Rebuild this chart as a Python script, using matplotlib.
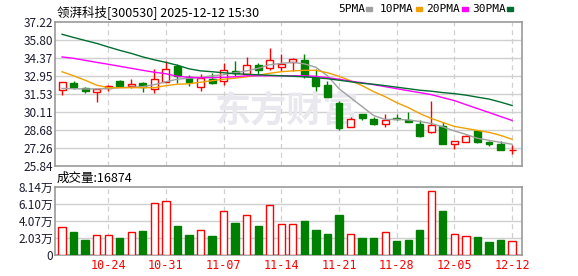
import numpy as np
import matplotlib
matplotlib.use("Agg")
import matplotlib.pyplot as plt

plt.rcParams['font.family'] = ['Noto Sans CJK SC', 'DejaVu Sans']

# daily bars 10-20 .. 12-12
opens = [31.85, 32.42, 31.97, 31.68, 31.99, 32.58, 32.13, 32.37, 31.93, 32.50,
         33.76, 32.89, 32.11, 32.74, 32.52, 33.36, 33.15, 33.86, 33.62, 33.68,
         34.05, 34.21, 32.76, 32.27, 30.80, 28.94, 29.91, 29.54, 29.12, 29.60,
         29.44, 29.12, 28.55, 29.02, 27.61, 27.76, 28.60, 27.73, 27.55, 27.12]
highs = [32.50, 32.58, 32.08, 31.93, 32.24, 32.60, 32.74, 32.45, 33.50, 34.10,
         33.91, 33.05, 33.11, 33.18, 33.97, 34.15, 34.46, 34.00, 35.20, 34.68,
         34.35, 34.72, 33.50, 32.58, 31.01, 29.75, 29.95, 29.70, 29.93, 29.96,
         30.09, 29.44, 31.01, 29.28, 27.80, 28.26, 28.62, 27.81, 27.79, 27.47]
lows = [31.48, 31.90, 31.64, 30.93, 31.79, 32.08, 32.03, 31.66, 31.64, 32.45,
        32.42, 32.13, 31.74, 32.35, 32.27, 32.97, 33.10, 33.15, 33.42, 33.36,
        33.36, 32.79, 31.79, 31.30, 28.65, 28.90, 29.44, 29.07, 28.91, 29.50,
        29.30, 28.10, 28.44, 27.60, 27.21, 27.75, 27.65, 27.39, 27.12, 26.82]
closes = [32.45, 32.11, 31.74, 31.91, 32.19, 32.13, 32.34, 32.08, 32.68, 33.50,
          32.95, 32.45, 32.79, 32.40, 33.42, 33.18, 33.84, 33.44, 34.23, 33.94,
          34.33, 32.97, 32.13, 31.32, 28.81, 29.54, 29.62, 29.18, 29.44, 29.52,
          29.33, 28.18, 29.07, 27.61, 27.79, 28.18, 27.73, 27.55, 27.14, 27.14]
# volume in 万手
volumes = [3.35, 2.75, 1.80, 2.36, 2.36, 2.03, 2.71, 2.87, 6.19, 6.43,
           3.47, 2.39, 2.95, 2.27, 5.23, 3.83, 4.75, 3.47, 5.95, 3.71,
           3.67, 4.07, 2.99, 2.51, 4.79, 2.47, 2.00, 2.03, 2.71, 1.64,
           1.80, 2.99, 7.63, 5.27, 2.47, 2.23, 2.15, 1.56, 1.80, 1.6874]

ma5 = [31.97, 31.95, 31.93, 31.93, 31.95, 32.03, 32.07, 32.11, 32.27, 32.50,
       32.70, 32.78, 32.82, 32.97, 33.05, 33.21, 33.36, 33.56, 33.84, 33.95,
       34.03, 33.91, 33.64, 32.97, 31.95, 31.24, 30.54, 29.83, 29.52, 29.52,
       29.48, 29.36, 29.20, 28.93, 28.61, 28.34, 28.03, 27.87, 27.71, 27.56]
ma10 = [33.29, 32.97, 32.62, 32.23, 32.03, 32.03, 32.03, 32.03, 32.03, 32.19,
        32.30, 32.34, 32.46, 32.58, 32.70, 32.78, 32.89, 33.01, 33.17, 33.29,
        33.36, 33.40, 33.40, 33.21, 32.93, 32.58, 32.19, 31.72, 31.32, 30.85,
        30.46, 29.99, 29.60, 29.28, 28.97, 28.81, 28.65, 28.50, 28.26, 27.95]
ma20 = [34.46, 34.35, 34.19, 34.03, 33.88, 33.72, 33.56, 33.40, 33.25, 33.13,
        32.93, 32.85, 32.82, 32.82, 32.85, 32.89, 32.97, 32.97, 32.97, 32.97,
        32.97, 32.97, 32.93, 32.82, 32.70, 32.54, 32.42, 32.27, 32.11, 31.95,
        31.79, 31.64, 31.48, 31.24, 31.01, 30.69, 30.38, 30.07, 29.75, 29.44]
ma30 = [36.25, 36.00, 35.76, 35.53, 35.25, 34.98, 34.74, 34.46, 34.23, 34.03,
        33.80, 33.52, 33.36, 33.29, 33.21, 33.13, 33.09, 33.05, 33.01, 32.97,
        32.93, 32.89, 32.82, 32.74, 32.62, 32.50, 32.38, 32.30, 32.19, 32.07,
        31.95, 31.83, 31.75, 31.64, 31.56, 31.44, 31.28, 31.13, 30.89, 30.62]

date_pos = [4, 9, 14, 19, 24, 29, 34, 39]
date_labels = ['10-24', '10-31', '11-07', '11-14', '11-21', '11-28', '12-05', '12-12']
price_ticks = [25.84, 27.26, 28.68, 30.11, 31.53, 32.95, 34.37, 35.80, 37.22]
vol_ticks = [0, 2.03, 4.07, 6.10, 8.14]
vol_labels = ['0', '2.03万', '4.07万', '6.10万', '8.14万']

RED = '#ff0000'
GREEN = '#008000'
GRID = '#d0d0d0'
FRAME = '#999999'

fig = plt.figure(figsize=(5.78, 2.76), dpi=100)
ax = fig.add_axes([55 / 578, 1 - 166 / 276, 467 / 578, 144 / 276])
axv = fig.add_axes([55 / 578, 1 - 255 / 276, 467 / 578, 68 / 276])

x = np.arange(len(closes))
xlim = (-0.61, 39.86)

for a in (ax, axv):
    a.set_xlim(*xlim)
    for s in a.spines.values():
        s.set_color(FRAME)
        s.set_linewidth(1.2)
    a.tick_params(length=0, pad=1.5, labelsize=8.5, colors='#1c1c30')
    for p in date_pos:
        a.axvline(p, color=GRID, lw=0.9, ls=(0, (4, 3)), zorder=0)

# price panel
ax.set_ylim(25.84, 37.22)
ax.set_yticks(price_ticks)
ax.set_yticklabels(['%.2f' % v for v in price_ticks])
ax.set_xticks([])
for v in price_ticks[1:-1]:
    ax.axhline(v, color=GRID, lw=1.0, zorder=0)

ax.text(19.5, 30.2, '东方财富', fontsize=26, color='#e8e8ee', ha='center',
        va='center', zorder=0, fontweight='bold')

w = 0.6
for i in x:
    up = closes[i] >= opens[i]
    c = RED if up else GREEN
    ax.vlines(i, lows[i], highs[i], color=c, lw=1.0, zorder=3)
    lo, hi = min(opens[i], closes[i]), max(opens[i], closes[i])
    h = max(hi - lo, 0.02)
    ax.bar(i, h, bottom=lo, width=w, facecolor='white' if up else GREEN,
           edgecolor=c, lw=1.0, zorder=4)

ax.plot(x, ma5, color='#a0a0a0', lw=1.0, zorder=5)
ax.plot(x, ma10, color='#f0a000', lw=1.0, zorder=5)
ax.plot(x, ma20, color='#ff00ff', lw=1.0, zorder=5)
ax.plot(x, ma30, color='#006e30', lw=1.0, zorder=5)

# volume panel
axv.set_ylim(0, 8.14)
axv.set_yticks(vol_ticks)
axv.set_yticklabels(vol_labels)
for v in vol_ticks[1:-1]:
    axv.axhline(v, color=GRID, lw=1.0, zorder=0)
axv.set_xticks(date_pos)
axv.set_xticklabels(date_labels, color=RED, fontsize=8.5,
                    family=['DejaVu Sans Mono'])
axv.tick_params(axis='x', pad=3)
for i in x:
    up = closes[i] >= opens[i]
    axv.bar(i, volumes[i], width=0.63, facecolor='white' if up else GREEN,
            edgecolor=RED if up else GREEN, lw=1.0, zorder=3)

# header texts
fig.text(57 / 578, 1 - 12 / 276, '领湃科技[300530] 2025-12-12 15:30',
         fontsize=9, va='center', ha='left')
fig.text(57 / 578, 1 - 178 / 276, '成交量:16874', fontsize=9,
         va='center', ha='left')

legend = [('5PMA', '#a0a0a0', 338, 366), ('10PMA', '#f0a000', 380, 416),
          ('20PMA', '#ff00ff', 426, 462), ('30PMA', '#006e30', 472, 507)]
for name, col, tx, sx in legend:
    fig.text(tx / 578, 1 - 9 / 276, name, fontsize=8, va='center', ha='left',
             family=['DejaVu Sans Mono'])
    fig.patches.append(plt.Rectangle((sx / 578, 1 - 11 / 276), 6 / 578, 4 / 276,
                                     transform=fig.transFigure, color=col))

fig.savefig('out.png', dpi=100, facecolor='white')
